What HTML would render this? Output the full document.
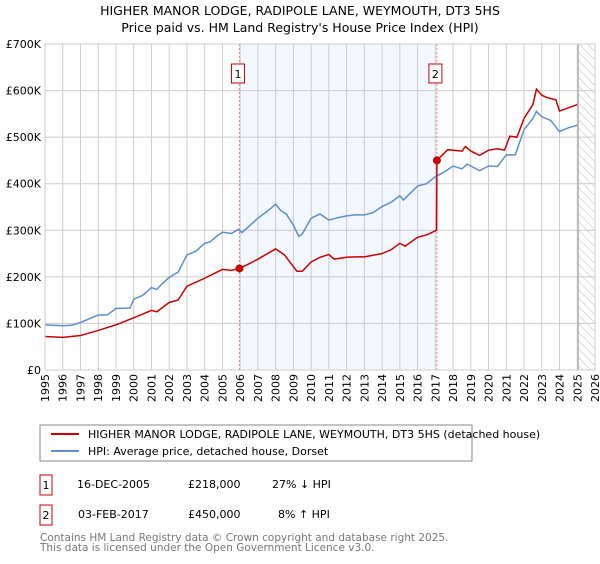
<!DOCTYPE html>
<html><head><meta charset="utf-8"><style>
body{margin:0;background:#fff;font-family:"DejaVu Sans","Liberation Sans",sans-serif}
svg text{font-family:"DejaVu Sans","Liberation Sans",sans-serif}
</style></head><body>
<svg id="c" width="600" height="560" xmlns="http://www.w3.org/2000/svg">
<defs><pattern id="hatch" width="6" height="6" patternUnits="userSpaceOnUse" patternTransform="rotate(-45)"><line x1="0" y1="0" x2="0" y2="6" stroke="#bbb" stroke-width="1"/></pattern></defs>
<text x="300" y="15" text-anchor="middle" font-size="12.5">HIGHER MANOR LODGE, RADIPOLE LANE, WEYMOUTH, DT3 5HS</text>
<text x="300" y="32" text-anchor="middle" font-size="12.5">Price paid vs. HM Land Registry's House Price Index (HPI)</text>
<g id="plot"></g>
<rect x="40" y="425" width="432" height="36" fill="#fff" stroke="#888"/>
<line x1="51" y1="434" x2="79" y2="434" stroke="#cc0000" stroke-width="2"/>
<text x="88" y="438" font-size="11">HIGHER MANOR LODGE, RADIPOLE LANE, WEYMOUTH, DT3 5HS (detached house)</text>
<line x1="51" y1="451" x2="79" y2="451" stroke="#5b8fd0" stroke-width="2"/>
<text x="88" y="455" font-size="11">HPI: Average price, detached house, Dorset</text>
<g>
<rect x="40" y="475" width="12" height="20" fill="#fff" stroke="#cc0000"/><text x="46" y="489" text-anchor="middle" font-size="11">1</text>
<text x="77" y="488" font-size="11">16-DEC-2005</text><text x="188" y="488" font-size="11">£218,000</text><text x="272" y="488" font-size="11">27% ↓ HPI</text></g>
<g>
<rect x="40" y="505" width="12" height="20" fill="#fff" stroke="#cc0000"/><text x="46" y="519" text-anchor="middle" font-size="11">2</text>
<text x="78" y="518" font-size="11">03-FEB-2017</text><text x="188" y="518" font-size="11">£450,000</text><text x="278" y="518" font-size="11">8% ↑ HPI</text></g>
<text x="40" y="541" font-size="10.5" fill="#777">Contains HM Land Registry data © Crown copyright and database right 2025.</text>
<text x="40" y="551" font-size="10.5" fill="#777">This data is licensed under the Open Government Licence v3.0.</text>
</svg>
<script>
const hpiYears=[1995,1996,1996.5,1997,1998,1998.5,1999,1999.8,2000,2000.5,2001,2001.3,2001.6,2002,2002.5,2003,2003.5,2004,2004.3,2004.7,2005,2005.5,2005.9,2006.1,2006.6,2007,2007.6,2008,2008.3,2008.6,2009,2009.3,2009.5,2010,2010.5,2011,2011.5,2012,2012.5,2013,2013.5,2014,2014.5,2015,2015.2,2016,2016.5,2017,2017.5,2018,2018.5,2018.8,2019,2019.5,2020,2020.5,2021,2021.5,2022,2022.5,2022.7,2023,2023.5,2024,2024.5,2025];
const hpiValues=[97,95,96,102,118,118,132,133,152,160,177,173,185,199,210,247,255,272,275,288,296,293,302,295,312,326,343,356,342,335,311,287,292,326,335,322,327,331,333,333,338,351,360,374,365,395,400,415,425,438,432,442,438,428,438,437,462,462,516,540,555,544,536,512,520,526];
const priceYears=[1995,1996,1997,1998,1999,2000,2001,2001.3,2002,2002.5,2003,2004,2005,2005.5,2005.96,2006.5,2007,2008,2008.5,2009.2,2009.5,2010,2010.5,2011,2011.3,2012,2012.5,2013,2014,2014.5,2015,2015.3,2016,2016.5,2017.07,2017.09,2017.3,2017.7,2018.5,2018.7,2019,2019.5,2020,2020.5,2020.9,2021.2,2021.6,2022,2022.5,2022.7,2023,2023.3,2023.8,2024,2024.5,2025];
const priceValues=[72,70,74,85,97,112,128,125,145,150,180,197,216,214,218,228,238,260,247,212,212,232,242,248,238,242,243,243,250,258,272,266,285,290,300,450,458,473,470,480,470,461,472,475,472,502,500,540,570,603,590,585,580,556,563,570];
const saleYears=[2005.96,2017.09];
const saleValues=[218,450];
const saleLabels=["1","2"];
const yTicks=[0,100,200,300,400,500,600,700];
const yTickLabels=["£0","£100K","£200K","£300K","£400K","£500K","£600K","£700K"];
const xTicks=[];for(let y=1995;y<=2026;y++)xTicks.push(y);
const X0=45,X1=595,Y0=370,Y1=44;
const xs=y=>X0+(y-1995)*(X1-X0)/31;
const ys=v=>Y0-v*(Y0-Y1)/700;
const NS="http://www.w3.org/2000/svg";
const g=document.getElementById('plot');
function mk(t,a){const e=document.createElementNS(NS,t);for(const k in a)e.setAttribute(k,a[k]);g.appendChild(e);return e;}
let e=mk('rect',{x:xs(saleYears[0]),y:Y1,width:xs(saleYears[1])-xs(saleYears[0]),height:Y0-Y1,fill:'#eef3fd',opacity:0.7});


e=mk('rect',{x:xs(2025.05),y:Y1,width:X1-xs(2025.05),height:Y0-Y1,fill:'url(#hatch)'});


xTicks.forEach(t=>{const l=mk('line',{x1:xs(t),x2:xs(t),y1:Y1,y2:Y0,stroke:'#ccc'});


const tx=mk('text',{x:0,y:0,'font-size':'11','text-anchor':'end',transform:`translate(${xs(t)+4},374) rotate(-90)`});tx.textContent=t;

});
yTicks.forEach((t,i)=>{const l=mk('line',{x1:X0,x2:X1,y1:ys(t),y2:ys(t),stroke:'#ccc'});


const tx=mk('text',{x:41,y:ys(t)+4,'font-size':'11','text-anchor':'end'});tx.textContent=yTickLabels[i];

});
e=mk('line',{x1:xs(2025.05),x2:xs(2025.05),y1:Y1,y2:Y0,stroke:'#999'});


saleYears.forEach((s,i)=>{const l=mk('line',{x1:xs(s),x2:xs(s),y1:Y1,y2:Y0,stroke:'#f08080','stroke-dasharray':'2,2'});


const bx=mk('rect',{x:xs(s)-8,y:64,width:13,height:19,fill:'#fff',stroke:'#cc0000'});


const tx=mk('text',{x:xs(s)-1.5,y:78,'font-size':'11','text-anchor':'middle'});tx.textContent=saleLabels[i];

});
const hp=mk('polyline',{points:hpiYears.map((y,i)=>xs(y)+','+ys(hpiValues[i])).join(' '),fill:'none',stroke:'#5b8fd0','stroke-width':1.5});


const pp=mk('polyline',{points:priceYears.map((y,i)=>xs(y)+','+ys(priceValues[i])).join(' '),fill:'none',stroke:'#cc0000','stroke-width':1.5});


saleYears.forEach((s,i)=>{const c=mk('circle',{cx:xs(s),cy:ys(saleValues[i]),r:4,fill:'#cc0000'});

});
e=mk('rect',{x:X0,y:Y1,width:X1-X0,height:Y0-Y1,fill:'none',stroke:'#ccc'});


</script>
</body></html>
